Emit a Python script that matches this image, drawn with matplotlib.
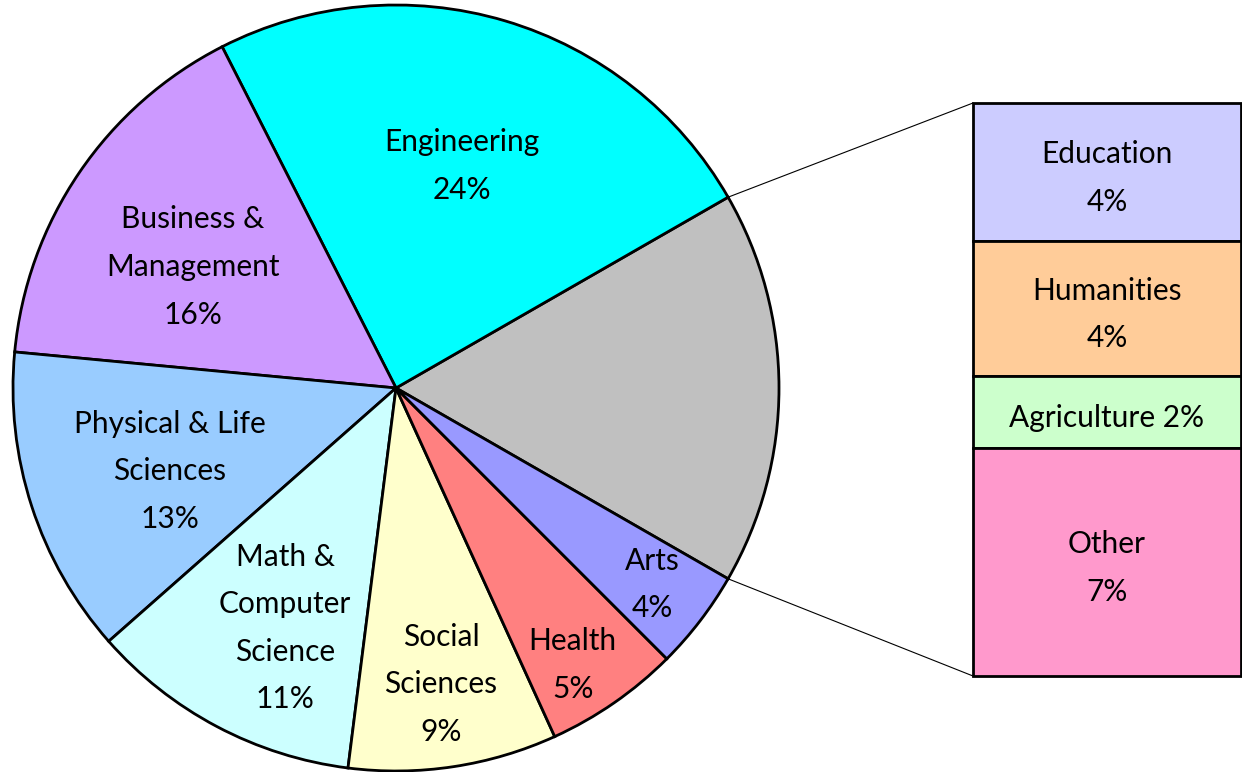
import numpy as np
import matplotlib
matplotlib.use("Agg")
from matplotlib import pyplot as plt

plt.rcParams['font.family'] = ['Lato', 'DejaVu Sans']

# main pie categories (percent of total)
main_labels = ["Engineering", "Business &\nManagement", "Physical & Life\nSciences",
               "Math &\nComputer\nScience", "Social\nSciences", "Health", "Arts"]
main_values = [24.2, 16.0, 13.0, 11.5, 8.8, 5.7, 4.2]
main_pct = ["24%", "16%", "13%", "11%", "9%", "5%", "4%"]
main_colors = ["#00FFFF", "#CC99FF", "#99CCFF", "#CCFFFF", "#FFFFCC", "#FF8080", "#9999FF"]

# broken-out bar (top to bottom)
bar_labels = ["Education", "Humanities", "Agriculture", "Other"]
bar_values = [4.0, 3.9, 2.1, 6.6]
bar_pct = ["4%", "4%", "2%", "7%"]
bar_colors = ["#CCCCFF", "#FFCC99", "#CCFFCC", "#FF99CC"]
rest_color = "#C0C0C0"

W, H = 1242, 772
fig = plt.figure(figsize=(W / 100, H / 100), dpi=100)
ax = fig.add_axes([0, 0, 1, 1])

cx, cy, r = 396, 384, 383
rest = sum(bar_values)
values = [rest] + main_values
colors = [rest_color] + main_colors
start = -rest / 100 * 360 / 2

wedges, _ = ax.pie(values, colors=colors, startangle=start, counterclock=True,
                   center=(cx, cy), radius=r,
                   wedgeprops=dict(edgecolor="black", linewidth=2.0))

# label placement: fraction of radius and angle nudge (deg)
label_dist = [0.605, 0.617, 0.629, 0.69, 0.782, 0.858, 0.843]
label_nudge = [0, 3.4, 2.2, 3.1, 0, -2.2, 0]
fs = 21.5
ls = 1.85
for w, lab, pct, d, n in zip(wedges[1:], main_labels, main_pct, label_dist, label_nudge):
    ang = np.deg2rad((w.theta1 + w.theta2) / 2 + n)
    x = cx + d * r * np.cos(ang)
    y = cy + d * r * np.sin(ang)
    ax.text(x, y, lab + "\n" + pct, ha="center", va="center", fontsize=fs,
            linespacing=ls)

# stacked bar for the "rest" wedge
bx0, bx1 = 973, 1241
by0, by1 = 96, 669
scale = (by1 - by0) / rest
top = by1
for lab, v, pct, c in zip(bar_labels, bar_values, bar_pct, bar_colors):
    h = v * scale
    ax.bar((bx0 + bx1) / 2, h, bottom=top - h, width=bx1 - bx0, color=c,
           edgecolor="black", linewidth=2.0)
    txt = lab + " " + pct if v < 3 else lab + "\n" + pct
    ax.text((bx0 + bx1) / 2, top - h / 2 - 6, txt, ha="center", va="center",
            fontsize=fs, linespacing=ls)
    top -= h

# connector lines
gw = wedges[0]
for th, by in [(gw.theta1, by0), (gw.theta2, by1)]:
    a = np.deg2rad(th)
    ax.plot([cx + r * np.cos(a), bx0], [cy + r * np.sin(a), by], color="black", lw=0.8)

ax.set_xlim(0, W)
ax.set_ylim(0, H)
ax.set_aspect("auto")
ax.axis("off")
fig.savefig("out.png", dpi=100)
